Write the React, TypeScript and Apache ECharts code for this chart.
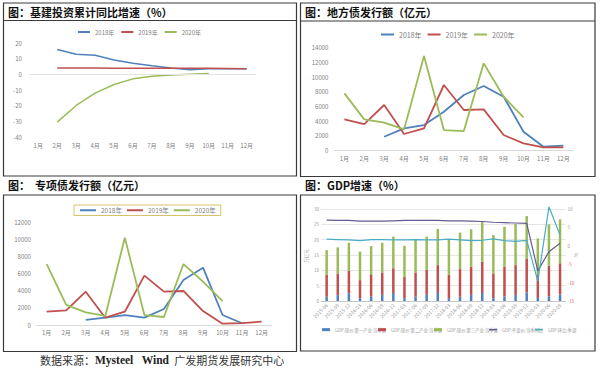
import React, { useEffect, useRef } from "react";
import * as echarts from "echarts";

const months = ["1月", "2月", "3月", "4月", "5月", "6月", "7月", "8月", "9月", "10月", "11月", "12月"];
const yearNames = ["2018年", "2019年", "2020年"];

// 基建投资累计同比增速 (%)
const infra2018 = [null, 16.1, 13.0, 12.4, 9.4, 7.3, 5.7, 4.2, 3.1, 3.7, 3.7, 3.8];
const infra2019 = [null, 4.3, 4.3, 4.2, 4.1, 4.1, 4.0, 4.0, 4.0, 4.0, 3.9, 3.8];
const infra2020 = [null, -30.3, -19.7, -11.8, -6.3, -2.7, -1.0, -0.3, 0.2, 0.7, null, null];

// 地方债发行额 (亿元)
const local2018 = [null, null, 1900, 3040, 3490, 5300, 7570, 8790, 7340, 2580, 540, 680];
const local2019 = [4260, 3620, 6210, 2270, 3040, 8930, 5530, 5620, 2130, 1000, 450, 450];
const local2020 = [7790, 4260, 3810, 2900, 12870, 2810, 2670, 11870, 7340, 4530, null, null];

// 专项债发行额 (亿元)
const special2018 = [null, null, 590, 860, 1170, 860, 1880, 5280, 6720, 1170, 200, null];
const special2019 = [1560, 1720, 3910, 860, 1560, 5790, 3910, 3990, 1640, 160, 230, 390];
const special2020 = [7150, 2350, 1490, 1060, 10240, 1170, 940, 7150, 5080, 2810, null, null];

// GDP
const quarters = [
  "2015-06", "2015-09", "2015-12", "2016-03", "2016-06", "2016-09", "2016-12", "2017-03",
  "2017-06", "2017-09", "2017-12", "2018-03", "2018-06", "2018-09", "2018-12", "2019-03",
  "2019-06", "2019-09", "2019-12", "2020-03", "2020-06", "2020-09",
];
const gdpPrimary = [1.4, 1.9, 2.5, 0.9, 1.5, 2.0, 2.6, 0.9, 1.4, 2.0, 2.6, 0.9, 1.4, 2.0, 2.6, 0.9, 1.5, 2.0, 2.8, 1.0, 1.5, 2.1];
const gdpSecondary = [7.1, 7.1, 7.3, 5.9, 7.2, 7.3, 8.1, 7.0, 7.9, 8.1, 9.1, 7.6, 9.0, 9.2, 10.2, 8.1, 9.7, 9.7, 10.9, 7.5, 10.0, 10.2];
const gdpTertiary = [8.1, 8.5, 9.2, 9.3, 9.2, 9.7, 10.3, 10.1, 10.6, 10.9, 11.8, 11.4, 11.9, 12.2, 13.1, 12.5, 13.0, 13.4, 14.0, 11.9, 13.5, 14.3];
const gdpYoY = [7.0, 6.9, 6.9, 6.7, 6.7, 6.7, 6.8, 6.9, 6.9, 6.9, 6.9, 6.8, 6.8, 6.7, 6.6, 6.4, 6.3, 6.2, 6.1, -6.8, -1.6, 0.7];
const gdpQoQ = [1.8, 1.7, 1.6, 1.4, 1.7, 1.7, 1.6, 1.6, 1.7, 1.6, 1.6, 1.8, 1.6, 1.4, 1.5, 1.9, 1.4, 1.2, 1.5, -9.6, 10.6, 2.9];

const gdpNames = [
  "GDP:现价:第一产业:当季值",
  "GDP:现价:第二产业:当季值",
  "GDP:现价:第三产业:当季值",
  "GDP:不变价:当季同比",
  "GDP:环比:季调",
];

const C_BLUE = "#4f81bd";
const C_RED = "#c0504d";
const C_GREEN = "#9bbb59";
const C_PURPLE = "#675a8f";
const C_CYAN = "#4bacc6";
const GRAY = "#808080";
const FONT = "'Noto Sans CJK SC', 'Noto Sans', sans-serif";

function lineSeries(name: string, data: (number | null)[], color: string, xi: number, width: number, extra: any = {}) {
  return {
    type: "line",
    name,
    data,
    xAxisIndex: xi,
    yAxisIndex: xi,
    symbol: "none",
    lineStyle: { color, width },
    itemStyle: { color },
    ...extra,
  };
}

function monthAxis(gridIndex: number, margin: number, showLine: boolean) {
  return {
    type: "category",
    gridIndex,
    data: months,
    boundaryGap: true,
    axisTick: { show: false },
    axisLine: { show: showLine, lineStyle: { color: "#d9d9d9" } },
    axisLabel: { fontSize: 6, color: GRAY, margin, interval: 0 },
  };
}

function valueAxis(gridIndex: number, min: number, max: number, interval: number, margin: number) {
  return {
    type: "value",
    gridIndex,
    min,
    max,
    interval,
    splitLine: { show: false },
    axisLine: { show: false },
    axisTick: { show: false },
    axisLabel: { fontSize: 6, color: GRAY, margin, formatter: (v: number) => String(v) },
  };
}

export default function App() {
  const ref = useRef<HTMLDivElement>(null);

  useEffect(() => {
    if (!ref.current) return;
    const chart = echarts.init(ref.current, null, { renderer: "svg" });
    const border = { fill: "none", stroke: "#3a3a3a", lineWidth: 1.2 };
    const titleFont = `bold 11px ${FONT}`;

    const option: any = {
      animation: false,
      textStyle: { fontFamily: FONT },
      grid: [
        { left: 28.8, top: 43.3, width: 227.3, height: 94 },
        { left: 334.4, top: 47.7, width: 238.9, height: 103 },
        { left: 36.9, top: 222.7, width: 234.5, height: 102.3 },
        { left: 321.1, top: 209, width: 244.5, height: 92 },
      ],
      legend: [
        {
          data: yearNames,
          left: 78,
          top: 29,
          icon: "rect",
          itemWidth: 12,
          itemHeight: 2,
          itemGap: 7,
          padding: 0,
          textStyle: { fontSize: 6, color: GRAY },
        },
        {
          data: yearNames,
          left: 381,
          top: 31,
          icon: "rect",
          itemWidth: 13,
          itemHeight: 2,
          itemGap: 6,
          padding: 0,
          textStyle: { fontSize: 7, color: GRAY },
        },
        {
          data: yearNames,
          left: 74,
          top: 205,
          icon: "rect",
          itemWidth: 16,
          itemHeight: 2,
          itemGap: 5,
          padding: [2, 5, 2, 6],
          borderColor: "#d6c26a",
          borderWidth: 1,
          textStyle: { fontSize: 6.5, color: GRAY },
        },
        ...gdpNames.map((n, i) => ({
          data: [n],
          left: [322, 378, 434, 489, 535][i],
          top: 327.5,
          icon: "rect",
          itemWidth: 8,
          itemHeight: i < 3 ? 3 : 1.5,
          padding: 0,
          textStyle: { fontSize: 4.3, color: "#999999" },
        })),
      ],
      xAxis: [
        monthAxis(0, 5.5, false),
        monthAxis(1, 4.5, true),
        monthAxis(2, 4.3, true),
        {
          type: "category",
          gridIndex: 3,
          data: quarters,
          boundaryGap: true,
          axisTick: { show: false },
          axisLine: { show: true, lineStyle: { color: "#c8c8c8" } },
          axisLabel: { fontSize: 5, color: "#999999", rotate: 45, interval: 0, margin: 3 },
        },
      ],
      yAxis: [
        valueAxis(0, -40, 20, 10, 7),
        valueAxis(1, 0, 14000, 2000, 6),
        valueAxis(2, 0, 12000, 2000, 6),
        {
          type: "value",
          gridIndex: 3,
          min: 0,
          max: 30,
          interval: 5,
          splitLine: { show: true, lineStyle: { color: "#e6e6e6", width: 1 } },
          axisLine: { show: false },
          axisTick: { show: false },
          axisLabel: { fontSize: 4.5, color: "#999999", margin: 2 },
        },
        {
          type: "value",
          gridIndex: 3,
          position: "right",
          min: -15,
          max: 10,
          interval: 5,
          splitLine: { show: false },
          axisLine: { show: false },
          axisTick: { show: false },
          axisLabel: {
            fontSize: 4.5,
            margin: 2,
            color: (v: any) => (Number(v) < 0 ? "#e06060" : "#999999"),
          },
        },
      ],
      series: [
        lineSeries("2018年", infra2018, C_BLUE, 0, 1.5, {
          markLine: {
            silent: true,
            symbol: "none",
            label: { show: false },
            lineStyle: { color: "#e3e3e3", width: 1, type: "solid" },
            data: [{ yAxis: 0 }],
          },
        }),
        lineSeries("2019年", infra2019, C_RED, 0, 1.5),
        lineSeries("2020年", infra2020, C_GREEN, 0, 1.5),
        lineSeries("2018年", local2018, C_BLUE, 1, 1.8),
        lineSeries("2019年", local2019, C_RED, 1, 1.8),
        lineSeries("2020年", local2020, C_GREEN, 1, 1.8),
        lineSeries("2018年", special2018, C_BLUE, 2, 1.8),
        lineSeries("2019年", special2019, C_RED, 2, 1.8),
        lineSeries("2020年", special2020, C_GREEN, 2, 1.8),
        ...[gdpPrimary, gdpSecondary, gdpTertiary].map((d, i) => ({
          type: "bar",
          name: gdpNames[i],
          data: d,
          stack: "gdp",
          xAxisIndex: 3,
          yAxisIndex: 3,
          barWidth: 2.5,
          itemStyle: { color: [C_BLUE, C_RED, C_GREEN][i] },
        })),
        {
          type: "line",
          name: gdpNames[3],
          data: gdpYoY,
          xAxisIndex: 3,
          yAxisIndex: 4,
          symbol: "none",
          clip: false,
          lineStyle: { color: C_PURPLE, width: 1.2 },
          itemStyle: { color: C_PURPLE },
        },
        {
          type: "line",
          name: gdpNames[4],
          data: gdpQoQ,
          xAxisIndex: 3,
          yAxisIndex: 4,
          symbol: "none",
          clip: false,
          lineStyle: { color: C_CYAN, width: 1.2 },
          itemStyle: { color: C_CYAN },
        },
      ],
      graphic: [
        { type: "rect", shape: { x: 3.5, y: 3, width: 293, height: 173 }, style: border, silent: true },
        { type: "line", shape: { x1: 3.5, y1: 20.5, x2: 296.5, y2: 20.5 }, style: border, silent: true },
        { type: "rect", shape: { x: 300.5, y: 3, width: 294.5, height: 173.5 }, style: border, silent: true },
        { type: "line", shape: { x1: 300.5, y1: 21, x2: 595, y2: 21 }, style: border, silent: true },
        { type: "rect", shape: { x: 3.5, y: 195, width: 293, height: 156.5 }, style: border, silent: true },
        { type: "rect", shape: { x: 300.5, y: 195, width: 294.5, height: 156 }, style: border, silent: true },
        { type: "text", x: 8, y: 12, style: { text: "图：基建投资累计同比增速（%）", font: titleFont, fill: "#111", textVerticalAlign: "middle" } },
        { type: "text", x: 305, y: 12, style: { text: "图：地方债发行额（亿元）", font: titleFont, fill: "#111", textVerticalAlign: "middle" } },
        { type: "text", x: 8, y: 185, style: { text: "图：  专项债发行额（亿元）", font: titleFont, fill: "#111", textVerticalAlign: "middle" } },
        { type: "text", x: 305, y: 185, style: { text: "图：GDP增速（%）", font: titleFont, fill: "#111", textVerticalAlign: "middle" } },
        { type: "text", x: 306, y: 256, rotation: Math.PI / 2, style: { text: "万亿元", font: `4.5px ${FONT}`, fill: "#999", textAlign: "center", textVerticalAlign: "middle" } },
        { type: "text", x: 576, y: 255, rotation: -Math.PI / 2, style: { text: "%", font: `5px ${FONT}`, fill: "#999", textAlign: "center", textVerticalAlign: "middle" } },
        {
          type: "text",
          x: 40,
          y: 360,
          style: {
            text: "{c|数据来源：}{l|Mysteel   Wind}{c|  广发期货发展研究中心}",
            textVerticalAlign: "middle",
            rich: {
              c: { fontFamily: FONT, fontSize: 11, fill: "#333" },
              l: { fontFamily: "'Liberation Serif', serif", fontSize: 11.5, fontWeight: "bold", fill: "#222" },
            },
          },
        },
      ],
    };

    chart.setOption(option);
    return () => chart.dispose();
  }, []);

  return (
    <div
      ref={ref}
      style={{ position: "absolute", left: 0, top: 0, width: 600, height: 371, background: "#ffffff" }}
    />
  );
}
